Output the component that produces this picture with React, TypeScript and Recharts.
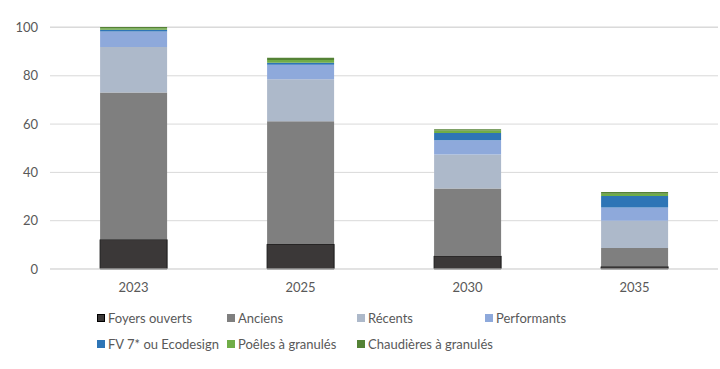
import { BarChart, Bar, XAxis, YAxis, CartesianGrid } from 'recharts';

const years = ['2023', '2025', '2030', '2035'];
const foyersOuverts = [12.2, 10.3, 5.4, 1.0];
const anciens = [60.9, 50.9, 27.9, 7.7];
const recents = [18.8, 17.4, 14.1, 11.3];
const performants = [6.4, 6.0, 5.9, 5.5];
const fv7 = [0.8, 0.8, 3.0, 4.7];
const poeles = [0.6, 1.1, 1.0, 1.0];
const chaudieres = [0.5, 1.0, 0.6, 0.7];
const yTicks = [0, 20, 40, 60, 80, 100];

const series = [
  { key: 'foyers', name: 'Foyers ouverts', color: '#3B3838', values: foyersOuverts },
  { key: 'anciens', name: 'Anciens', color: '#7F7F7F', values: anciens },
  { key: 'recents', name: 'Récents', color: '#ADB9CA', values: recents },
  { key: 'performants', name: 'Performants', color: '#8EA9DB', values: performants },
  { key: 'fv7', name: 'FV 7* ou Ecodesign', color: '#2E75B6', values: fv7 },
  { key: 'poeles', name: 'Poêles à granulés', color: '#70AD47', values: poeles },
  { key: 'chaudieres', name: 'Chaudières à granulés', color: '#548235', values: chaudieres },
];

const data = years.map((y, i) => {
  const row: Record<string, string | number> = { year: y };
  series.forEach((s) => { row[s.key] = s.values[i]; });
  return row;
});

const font = 'Lato, "Open Sans", sans-serif';
const legendCols = [97, 227, 357, 485];

export default function App() {
  return (
    <div style={{ position: 'absolute', left: 0, top: 0, width: 720, height: 369, background: '#fff', fontFamily: font }}>
      <BarChart width={720} height={369} data={data} barCategoryGap="30%"
        margin={{ top: 27, right: 2, left: 0, bottom: 70 }}>
        <CartesianGrid vertical={false} stroke="#D9D9D9" />
        <XAxis dataKey="year" axisLine={{ stroke: '#D9D9D9' }} tickLine={false} height={30} tickMargin={8}
          tick={{ fontSize: 13, fill: '#595959', fontFamily: font }} />
        <YAxis domain={[0, 100]} ticks={yTicks} axisLine={false} tickLine={false} width={50} tickMargin={6}
          tick={{ fontSize: 13, fill: '#595959', fontFamily: font }} />
        {series.map((s) => (
          <Bar key={s.key} dataKey={s.key} name={s.name} stackId="a" fill={s.color}
            stroke={s.key === 'foyers' ? '#1a1a1a' : undefined} strokeWidth={s.key === 'foyers' ? 1 : 0}
            isAnimationActive={false} />
        ))}
      </BarChart>
      {series.map((s, i) => {
        const row = i < 4 ? 0 : 1;
        const col = i < 4 ? i : i - 4;
        return (
          <div key={s.key} style={{ position: 'absolute', left: legendCols[col], top: row === 0 ? 310 : 336,
            display: 'flex', alignItems: 'center', fontSize: 13, color: '#595959', whiteSpace: 'nowrap' }}>
            <span style={{ display: 'inline-block', width: 8, height: 8, background: s.color, marginRight: 3,
              border: i === 0 ? '1px solid #000' : 'none', boxSizing: 'border-box' }} />
            {s.name}
          </div>
        );
      })}
    </div>
  );
}
